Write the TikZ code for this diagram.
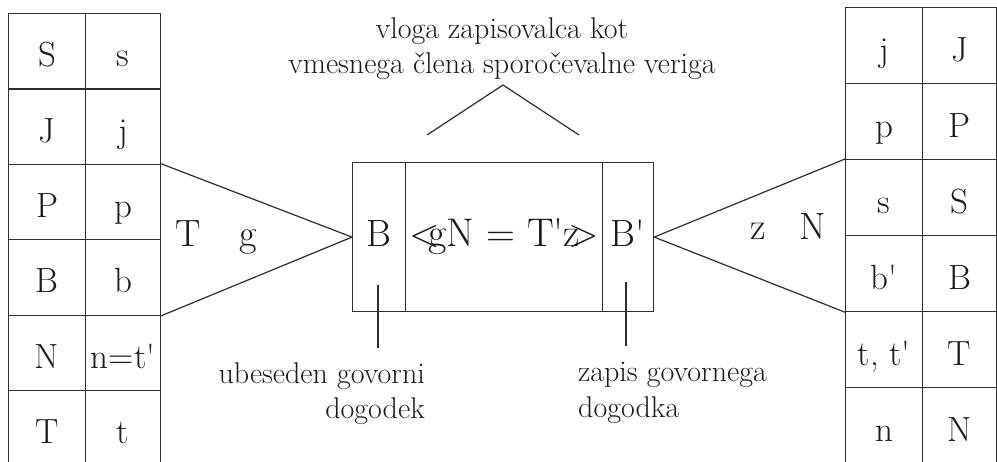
\documentclass[tikz,border=0pt]{standalone}
\usepackage{fontspec}
\definecolor{linec}{HTML}{2E2E2E}
\definecolor{textc}{HTML}{1A1A1A}
\newcommand{\ap}{\textquotesingle}
\begin{document}
\begin{tikzpicture}[x=1pt,y=-1pt,
  tcell/.style={draw=linec, line width=1.2pt, anchor=north west, inner sep=0pt,
    minimum height=#1, text height=31pt, text depth=0pt,
    font=\fontsize{35}{40}\selectfont, text=textc},
  bcell/.style={draw=linec, line width=1.2pt, anchor=north west, inner sep=0pt,
    minimum height=149pt, text height=18pt, text depth=0pt,
    font=\fontsize{38}{44}\selectfont, text=textc},
  conn/.style={draw=linec, line width=1.2pt},
  big/.style={font=\fontsize{38}{44}\selectfont, text=textc, anchor=base, inner sep=0pt},
  lab/.style={font=\fontsize{30}{35.5}\selectfont, text=textc, inner sep=0pt}
]
\useasboundingbox (0,0) rectangle (997,462);
\fill[white] (0,0) rectangle (997,462);
\clip (0,0) rectangle (997,462);

% left table
\foreach \a/\b [count=\i] in {S/s, J/j, P/p, B/b, N/{n=t\ap}, T/t} {
  \node[tcell=75.4pt, minimum width=77pt] (L\i a) at (8,{13+75.4*(\i-1)}) {\a};
  \node[tcell=75.4pt, minimum width=75pt] (L\i b) at (85,{13+75.4*(\i-1)}) {\b};
}
% right table
\foreach \a/\b [count=\i] in {j/J, p/P, s/S, {b\ap}/B, {t, t\ap}/T, n/N} {
  \node[tcell=76pt, minimum width=77pt] (R\i a) at (845,{7+76*(\i-1)}) {\a};
  \node[tcell=76pt, minimum width=74pt] (R\i b) at (922,{7+76*(\i-1)}) {\b};
}

% central box
\node[bcell, minimum width=53pt] (bB) at (352,162) {B};
\node[bcell, minimum width=197pt, font=\fontsize{40}{46}\selectfont] (bM) at (405,162) {<\kern-0.3em gN = T\ap z\kern-0.3em>};
\node[bcell, minimum width=51pt] (bBp) at (602,162) {B\ap};

% triangles
\draw[conn] (L3b.north east) -- (bB.west) -- (L4b.south east);
\draw[conn] (R3a.north west) -- (bBp.east) -- (R4a.south west);

\node[big] (tT) at (188,247) {T};
\node[big] (tg) at (248,247) {g};
\node[big] (tz) at (758,240) {z};
\node[big] (tN) at (813,240) {N};

% top label and caret
\node[lab, align=center, anchor=north] (title) at (502,17) {vloga zapisovalca kot\\vmesnega člena sporočevalne veriga};
\coordinate (cl) at (427,135);
\coordinate (ca) at (503,85);
\coordinate (cr) at (579,135);
\draw[conn] (cl) -- (ca) -- (cr);

% bottom labels
\node[lab, align=right, anchor=north east] (lab1) at (425,362) {ubeseden govorni\\dogodek};
\node[lab, align=left, anchor=north west] (lab2) at (578,362) {zapis govornega\\dogodka};
\coordinate (p1a) at (378,285);
\coordinate (p1b) at (378,348);
\coordinate (p2a) at (626,282);
\coordinate (p2b) at (626,346);
\draw[conn] (p1a) -- (p1b);
\draw[conn] (p2a) -- (p2b);
\end{tikzpicture}
\end{document}
